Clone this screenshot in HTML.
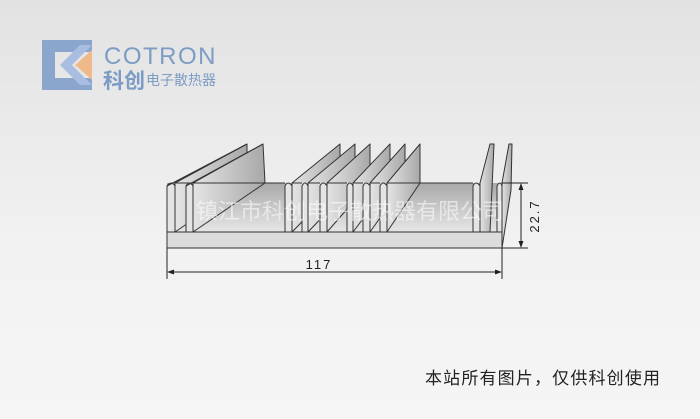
<!DOCTYPE html>
<html><head><meta charset="utf-8"><style>
html,body{margin:0;width:700px;height:419px;overflow:hidden}
body{background:linear-gradient(#e2e2e2,#f2f2f2 60%,#f5f5f5);font-family:"Liberation Sans","Noto Sans CJK SC",sans-serif}
svg{display:block}
</style></head><body>
<svg width="700" height="419" viewBox="0 0 700 419" xmlns="http://www.w3.org/2000/svg">
<defs>
<linearGradient id="fl" x1="0" y1="0" x2="0" y2="1"><stop offset="0" stop-color="#a9a9a9"/><stop offset="1" stop-color="#e6e6e6"/></linearGradient>
<linearGradient id="fc" x1="0" y1="0" x2="1" y2="0"><stop offset="0" stop-color="#e4e4e4"/><stop offset="1" stop-color="#a8a8a8"/></linearGradient>
</defs>
<!-- logo -->
<polygon points="42,40 92,40 92,52 55,52 55,78 92,78 92,90 42,90" fill="#8aa6cc"/>
<polygon points="60,65 80,45 92,45 72,65 92,85 80,85" fill="#a9bde0"/>
<polygon points="75,65 92,50 92,80" fill="#f0b98a"/>
<text x="104" y="64" font-size="24" fill="#7c9cc6" letter-spacing="1.5">COTRON</text>
<text x="103" y="88" font-size="21" font-weight="bold" fill="#7c9cc6" font-family="Noto Sans CJK SC,sans-serif">科创</text>
<text x="146" y="85" font-size="14" fill="#7c9cc6" font-family="Noto Sans CJK SC,sans-serif">电子散热器</text>
<!-- floor -->
<polygon points="167,183 502,183 502,232 167,232" fill="url(#fl)"/>
<!-- fins -->
<g stroke="#333" stroke-width="1" stroke-linejoin="round">
<polygon points="175,183 247,144 247,183 175,232" fill="url(#fc)"/>
<polygon points="193,183 263,144 265,183 193,232" fill="url(#fc)"/>
<polygon points="292,183 340,144 340,183 292,232" fill="url(#fc)"/>
<polygon points="308,183 355,144 355,183 308,232" fill="url(#fc)"/>
<polygon points="327,183 370,144 370,183 327,232" fill="url(#fc)"/>
<polygon points="353,183 390,144 390,183 353,232" fill="url(#fc)"/>
<polygon points="370,183 405,144 405,183 370,232" fill="url(#fc)"/>
<polygon points="387,183 420,144 420,183 387,232" fill="url(#fc)"/>
<polygon points="480,183 490,144 494,144 490,232 480,232" fill="url(#fc)"/>
<polygon points="502,183 509,144 512,144 511,190 502,248" fill="url(#fc)"/>
<path d="M167,232 L167,186 Q171,180 175,186 L175,232 M186,232 L186,186 Q189,180 193,186 L193,232 M285,232 L285,186 Q288,180 292,186 L292,232 M302,232 L302,186 Q305,180 308,186 L308,232 M320,232 L320,186 Q323,180 327,186 L327,232 M347,232 L347,186 Q350,180 353,186 L353,232 M363,232 L363,186 Q366,180 370,186 L370,232 M380,232 L380,186 Q383,180 387,186 L387,232 M473,232 L473,186 Q476,180 480,186 L480,232 M497,232 L497,186 Q500,180 502,186 L502,248" fill="#e4e4e4"/>
<path d="M175,183 L193,183 M292,183 L302,183 M308,183 L320,183 M327,183 L347,183 M353,183 L363,183 M370,183 L380,183 M387,183 L473,183 M193,183 L285,183" fill="none"/>
<path d="M167,186 L247,144 M186,186 L263,144" fill="none"/>
<rect x="167" y="232" width="335" height="16" fill="#dcdcdc"/>
</g>
<text x="196" y="219" font-size="22" fill="#fff" fill-opacity="0.55" font-family="Noto Sans CJK SC,sans-serif">镇江市科创电子散热器有限公司</text>
<!-- dimensions -->
<g stroke="#222" stroke-width="1" fill="none">
<path d="M167,248 V279 M502,248 V279 M169,272 H500 M502,183 H528 M502,248 H528 M521,185 V246"/>
</g>
<path d="M167,272 l7,-2.5 v5z M502,272 l-7,-2.5 v5z M521,183 l-2.5,7 h5z M521,248 l-2.5,-7 h5z" fill="#222"/>
<text x="319" y="269" font-size="13" fill="#222" text-anchor="middle" letter-spacing="2">117</text>
<text transform="translate(539,216) rotate(-90)" font-size="13" fill="#222" text-anchor="middle" letter-spacing="2">22.7</text>
<text x="425" y="384" font-size="17" fill="#222" textLength="235" font-family="Noto Sans CJK SC,sans-serif">本站所有图片，仅供科创使用</text>
</svg>
</body></html>
